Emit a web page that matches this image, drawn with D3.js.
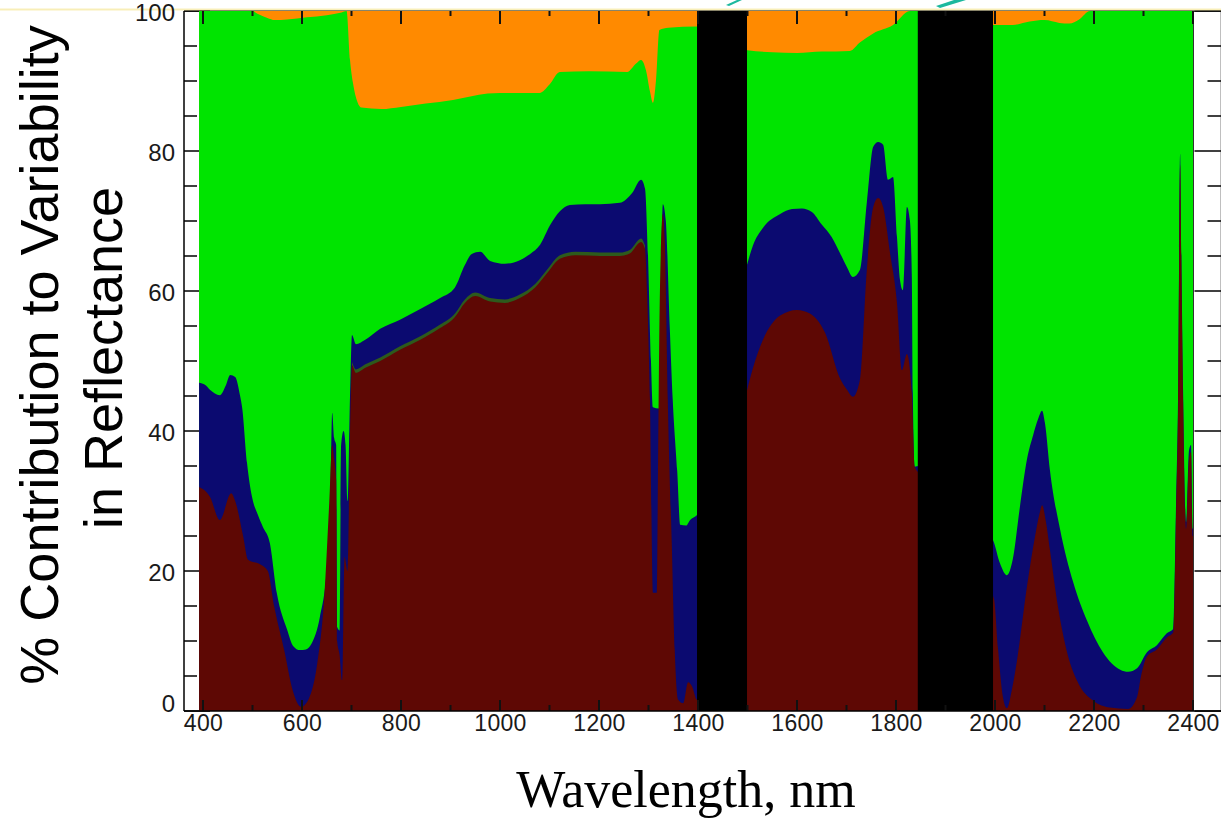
<!DOCTYPE html>
<html>
<head>
<meta charset="utf-8">
<script src="https://cdn.jsdelivr.net/npm/d3@7"></script>
<style>
  html, body { margin: 0; padding: 0; background: #fff; }
  svg { display: block; }
</style>
</head>
<body>
<svg id="chart" width="1221" height="822"></svg>
<script>
// Cumulative contribution boundaries (% of variability), each with its own wavelength grid (nm).
// Orange fills from the green boundary up to 100 %.
const wlGreen = [392,500,510,530,545,570,610,650,680,690, 697,703,712,720,760,800,850,905,940,975,
  1000,1080,1100,1121,1180,1257,1275,1285,1295,1303, 1309,1315,1322,1340,1398,1500,1550,1600,1650,1707,
  1727,1754,1794,1828,1850,1996,2036,2070,2100,2130, 2150,2170,2192,2400];
const greenTop = [100,100,99.6,99.0,98.7,98.8,99.1,99.4,99.8,100, 93,89.7,87,86.2,86.0,86.3,86.8,87.3,87.8,88.2,
  88.3,88.3,89.5,91.3,91.4,91.3,92.5,93,91.5,88.5, 86.9,90,97.3,97.6,97.8,94.4,94.1,94.0,94.2,94.3,
  95.5,96.8,98,100,100,98,98,98.5,98.7,98.3, 98.2,98.8,100,100];

const wlBlue = [392,404,414,434,446,455,465,475,479,489, 499,511,521,535,549,570,582,596,608,620,
  636,651,657,661,665,669,671,676,679,684, 688,692,697,701,709,727,758,798,838,879,
  909,929,943,960,980,1010,1040,1061,1081,1101, 1121,1141,1172,1202,1242,1267,1285,1293,1299,1305,
  1309,1321,1325,1329,1335,1343,1349,1358,1364,1376, 1384,1398,1498,1511,1531,1566,1590,1610,1630,1650,
  1670,1687,1701,1713,1727,1741,1754,1764,1774,1784, 1794,1802,1808,1814,1822,1828,1832,1834,1838,1846,
  1996,2010,2024,2036,2050,2065,2077,2087,2095,2101, 2111,2131,2158,2186,2218,2253,2269,2287,2307,2327,
  2347,2360,2366,2370,2374,2377,2380,2386,2392,2396, 2399,2400];
const blueTop = [46.9,46.6,45.9,45.1,46.5,48,47.7,45,43.4,35.4, 30.6,28,26.3,24,16.9,11.6,9.3,8.7,8.8,9.7,
  13.4,21.1,30,42.6,39,38,12,11.5,38,40, 38,30,45,53.7,52.4,53,54.6,55.9,57.4,59,
  60.5,63.7,65.3,65.6,64.3,63.9,64.4,65.3,66.6,69.4, 71.4,72.3,72.4,72.4,72.6,74,75.9,74.6,65,50,
  43.4,43.2,60,72.4,70,54.7,44.4,34.3,26.6,26.5, 27.3,28,63.5,66.5,69,71,71.7,71.8,71.3,69.5,
  67.7,65.4,63.4,62,63,72.6,80.6,81.3,80.9,75.9, 76.3,67.7,61.6,60.1,72,70.1,62,45.4,34.9,35,
  24.4,21.1,19.4,21.7,29,36.1,39.4,41.7,42.9,41.1, 34.4,26.1,18.4,12.9,8.4,5.9,5.6,6.1,8.4,9.4,
  11.1,11.7,30.5,46,79.6,62,45.6,27,37.3,38, 26.1,26];

const wlOlive = [701,709,727,758,798,838,879,909,929,950, 980,1010,1040,1071,1097,1121,1152,1202,1242,1263,
  1285,1293];
const oliveTop = [49.9,48.8,49.5,50.5,52.1,53.5,55.2,56.8,58.8,59.8, 59.0,58.8,59.5,61.0,63.2,65.1,65.6,65.5,65.5,65.9,
  67.5,66.5];

const wlRed = [392,414,434,457,465,481,491,517,531,544, 564,581,598,614,631,645,655,661,665,669,
  671,676,681,686,692,697,701,709,727,758, 798,838,879,909,929,950,980,1010,1040,1071,
  1097,1121,1152,1202,1242,1263,1285,1293,1297,1303, 1309,1317,1319,1323,1329,1333,1339,1347,1353,1360,
  1370,1380,1388,1398,1498,1511,1531,1566,1600,1626, 1657,1687,1701,1713,1727,1741,1754,1764,1774,1788,
  1802,1812,1822,1832,1838,1846,1998,2006,2016,2024, 2034,2044,2065,2081,2091,2095,2103,2111,2127,2147,
  2168,2198,2232,2269,2287,2295,2307,2327,2347,2360, 2366,2370,2374,2377,2380,2386,2392,2396,2399,2400];
const redTop = [32,30.6,27.3,31.1,30,25,21.6,20.9,20,14.9, 8.7,3,0.6,1.8,6.9,16.3,29.7,38,36,33,
  10,8,4.4,22,20,40,49.4,48.3,49,50, 51.6,53,54.7,56.3,58.3,59.3,58.5,58.3,59,60.5,
  62.7,64.6,65.1,65,65,65.4,67,66,60,44.4, 16.9,16.9,33,59.7,71,67,44.4,24,8.7,1.6,
  1.1,4.1,3.5,1.6,45.5,49,53,56.5,57.3,56.8, 54,47.5,45.9,44.9,47.3,63,72,73.3,72,65.4,
  58.3,48.7,51,45.4,34.9,34,16,9,2,0.4, 3,7,18,25,28.5,29.4,27,23,15,8,
  4,1.5,0.5,0.3,2,5,7.8,8.8,10.5,11.2, 29,44,78,60,44,26,36,37,25,25];

// Masked water-absorption bands (nm)
const waterBands = [[1398, 1499], [1844, 1996]];
const dataRange = [392, 2400];

// Axis ticks
const xTickLabels = [400, 600, 800, 1000, 1200, 1400, 1600, 1800, 2000, 2200, 2400];
const xMinorTicks = [500, 700, 900, 1100, 1300, 1500, 1700, 1900, 2100, 2300];
const yTickLabels = [0, 20, 40, 60, 80, 100];
const yMinorTicks = [5, 10, 15, 25, 30, 35, 45, 50, 55, 65, 70, 75, 85, 90, 95];

const colors = {
  orange: "#ff8a00", green: "#00e400", blue: "#0b0a70",
  olive: "#2d5a1c", red: "#5e0804", band: "#000000"
};

const svg = d3.select("#chart");
const frame = { left: 184, right: 1221.5, top: 11, bottom: 711 };
const x = d3.scaleLinear().domain([400, 2400]).range([203, 1193]);
const y = d3.scaleLinear().domain([0, 100]).range([frame.bottom, frame.top]);

// Frame (drawn first; fills cover what lies inside the data span)
const axes = svg.append("g").attr("stroke", "#000").attr("stroke-width", 1.5);
axes.append("line").attr("x1", frame.left).attr("x2", frame.left).attr("y1", frame.top).attr("y2", frame.bottom);
axes.append("line").attr("x1", frame.left).attr("x2", frame.right).attr("y1", frame.top).attr("y2", frame.top);
axes.append("line").attr("x1", frame.right).attr("x2", frame.right).attr("y1", frame.top).attr("y2", frame.bottom);

// y ticks on both sides, pointing inward
const yTicks = yTickLabels.map(v => ({ v, len: 26 })).concat(yMinorTicks.map(v => ({ v, len: 13 })));
axes.selectAll(".ytl").data(yTicks).join("line")
  .attr("x1", frame.left).attr("x2", d => frame.left + d.len)
  .attr("y1", d => y(d.v)).attr("y2", d => y(d.v));
axes.selectAll(".ytr").data(yTicks).join("line")
  .attr("x1", frame.right).attr("x2", d => frame.right - d.len - 1)
  .attr("y1", d => y(d.v)).attr("y2", d => y(d.v));

// Stacked contributions, painted back to front from each cumulative boundary
const fills = svg.append("g");
const area = d3.area().curve(d3.curveMonotoneX)
  .x(d => x(d[0])).y0(y(0)).y1(d => y(d[1]));

fills.append("path").attr("fill", colors.orange)
  .attr("d", area(dataRange.map(w => [w, 100])));
fills.append("path").attr("fill", colors.green).attr("d", area(d3.zip(wlGreen, greenTop)));
fills.append("path").attr("fill", colors.blue).attr("d", area(d3.zip(wlBlue, blueTop)));
fills.append("path").attr("fill", colors.olive).attr("d", area(d3.zip(wlOlive, oliveTop)));
fills.append("path").attr("fill", colors.red).attr("d", area(d3.zip(wlRed, redTop)));

fills.selectAll(".band").data(waterBands).join("rect")
  .attr("fill", colors.band)
  .attr("x", d => x(d[0])).attr("width", d => x(d[1]) - x(d[0]))
  .attr("y", y(100)).attr("height", y(0) - y(100));

// edge of the data span
svg.append("line").attr("x1", x(dataRange[1]) + 0.5).attr("x2", x(dataRange[1]) + 0.5)
  .attr("y1", frame.top).attr("y2", frame.bottom).attr("stroke", "#333").attr("stroke-width", 1);

// x ticks along top and bottom
const xt = svg.append("g").attr("stroke", "#111").attr("stroke-width", 2);
const xTicks = xTickLabels.map(v => ({ v, top: 13, bot: 11 })).concat(xMinorTicks.map(v => ({ v, top: 5, bot: 6 })));
xt.selectAll(".xtt").data(xTicks).join("line")
  .attr("x1", d => x(d.v)).attr("x2", d => x(d.v))
  .attr("y1", frame.top).attr("y2", d => frame.top + d.top);
xt.selectAll(".xtb").data(xTicks).join("line")
  .attr("x1", d => x(d.v)).attr("x2", d => x(d.v))
  .attr("y1", frame.bottom).attr("y2", d => frame.bottom - d.bot);

svg.append("line").attr("x1", frame.left).attr("x2", frame.right)
  .attr("y1", frame.bottom).attr("y2", frame.bottom)
  .attr("stroke", "#000").attr("stroke-width", 1.5);

// soft top rim
svg.append("rect").attr("x", 0).attr("y", 8.5).attr("width", 1221).attr("height", 2)
  .attr("fill", "#f6eaa6").attr("opacity", 0.8);

// Tick labels
const tickFont = "'Liberation Sans', Arial, sans-serif";
const xAxis = svg.append("g").attr("transform", `translate(0,${frame.bottom})`)
  .call(d3.axisBottom(x).tickValues(xTickLabels).tickSize(0).tickPadding(4).tickFormat(d3.format("d")));
xAxis.select(".domain").remove();
xAxis.selectAll("text").attr("font-family", tickFont).attr("font-size", 23)
  .attr("letter-spacing", 0.3).attr("fill", "#1a1a1a");

const yAxis = svg.append("g").attr("transform", `translate(${frame.left},0)`)
  .call(d3.axisLeft(y).tickValues(yTickLabels).tickSize(0).tickPadding(9).tickFormat(d3.format("d")));
yAxis.select(".domain").remove();
yAxis.selectAll("text").attr("font-family", tickFont).attr("font-size", 24)
  .attr("fill", "#1a1a1a")
  .attr("dy", d => d === 0 ? "0.02em" : "0.38em");

// Axis titles
const titleFont = "'Liberation Sans', Arial, sans-serif";
svg.append("text").attr("transform", "translate(58,355) rotate(-90)")
  .attr("text-anchor", "middle").attr("font-family", titleFont).attr("font-size", 54)
  .attr("fill", "#000").text("% Contribution to Variability");
svg.append("text").attr("transform", "translate(122,358) rotate(-90)")
  .attr("text-anchor", "middle").attr("font-family", titleFont).attr("font-size", 54)
  .attr("fill", "#000").text("in Reflectance");
svg.append("text").attr("x", 686).attr("y", 807)
  .attr("text-anchor", "middle").attr("font-family", "'Liberation Serif', 'Times New Roman', serif")
  .attr("font-size", 52).attr("fill", "#000").text("Wavelength, nm");

// pen marks along the top edge
const penMarks = [
  [[726, 5], [737, 0], [742, 0], [729, 6]],
  [[936, 6], [954, 0], [966, 0], [940, 8]]
];
svg.selectAll(".pen").data(penMarks).join("polygon")
  .attr("points", d => d.map(p => p.join(",")).join(" "))
  .attr("fill", "#1cb89e");
</script>
</body>
</html>
